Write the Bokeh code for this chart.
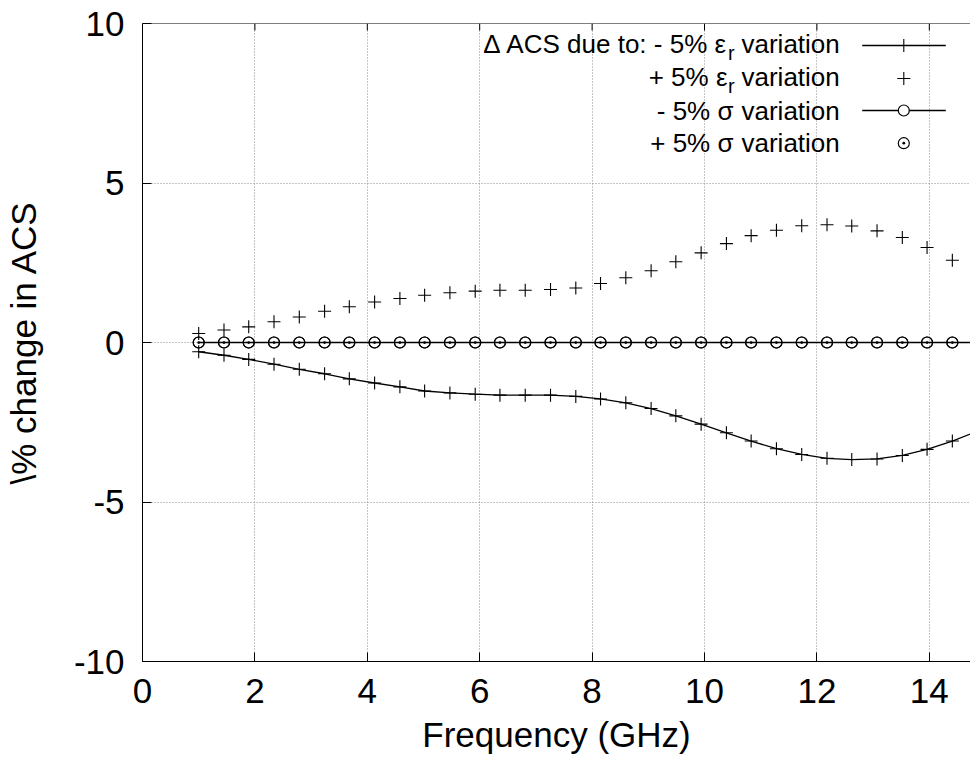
from bokeh.plotting import figure
from bokeh.models import FixedTicker, Range1d, Span
from bokeh.core.properties import value
from bokeh.embed import file_html
from bokeh.resources import INLINE

# ---------------- data ----------------
freq = [1.00, 1.45, 1.89, 2.34, 2.79, 3.24, 3.68, 4.13, 4.58, 5.02, 5.47,
        5.92, 6.36, 6.81, 7.26, 7.71, 8.15, 8.60, 9.05, 9.49, 9.94, 10.39,
        10.83, 11.28, 11.73, 12.18, 12.62, 13.07, 13.52, 13.96, 14.41, 14.86]

minus_eps = [-0.29, -0.40, -0.53, -0.68, -0.84, -0.98, -1.14, -1.27, -1.39,
             -1.52, -1.58, -1.62, -1.65, -1.65, -1.65, -1.69, -1.77, -1.89,
             -2.07, -2.30, -2.56, -2.83, -3.09, -3.33, -3.51, -3.63, -3.67,
             -3.65, -3.54, -3.35, -3.09, -2.78]

plus_eps = [0.28, 0.39, 0.49, 0.65, 0.80, 0.98, 1.12, 1.27, 1.38, 1.48, 1.56,
            1.61, 1.64, 1.64, 1.66, 1.71, 1.85, 2.03, 2.25, 2.53, 2.81, 3.10,
            3.35, 3.52, 3.66, 3.69, 3.65, 3.50, 3.29, 2.98, 2.58, 2.08]

minus_sigma = [0.0, 0.0, 0.0, 0.0, 0.0, 0.0, 0.0, 0.0, 0.0, 0.0, 0.0, 0.0,
               0.0, 0.0, 0.0, 0.0, 0.0, 0.0, 0.0, 0.0, 0.0, 0.0, 0.0, 0.0,
               0.0, 0.0, 0.0, 0.0, 0.0, 0.0, 0.0, 0.0]

plus_sigma = [0.0, 0.0, 0.0, 0.0, 0.0, 0.0, 0.0, 0.0, 0.0, 0.0, 0.0, 0.0,
              0.0, 0.0, 0.0, 0.0, 0.0, 0.0, 0.0, 0.0, 0.0, 0.0, 0.0, 0.0,
              0.0, 0.0, 0.0, 0.0, 0.0, 0.0, 0.0, 0.0]

x_ticks = [0, 2, 4, 6, 8, 10, 12, 14]
y_ticks = [-10, -5, 0, 5, 10]
y_tick_labels = ["-10", "-5", "0", "5", "10"]

legend_prefix = ["\u0394 ACS due to: - 5% \u03b5", "+ 5% \u03b5",
                 "- 5% \u03c3", "+ 5% \u03c3"]
legend_sub = ["r", "r", "", ""]
legend_tail = "variation"

# ---------------- layout ----------------
FONT = "Liberation Sans"
W, H = 970, 757
BL, BT, BB, BR = 142, 23, 96, 0
PX_PER_X = 56.2
FRAME_W = W - BL - BR
FRAME_H = H - BT - BB
X_END = FRAME_W / PX_PER_X

p = figure(width=W, height=H, output_backend="svg", toolbar_location=None,
           x_range=Range1d(0, X_END), y_range=Range1d(-10, 10),
           min_border_left=BL, min_border_right=BR,
           min_border_top=BT, min_border_bottom=BB,
           x_axis_label="Frequency (GHz)",
           y_axis_label="\\% change in ACS")
p.outline_line_color = None
p.background_fill_color = "white"
p.border_fill_color = "white"

for ax, ticks in ((p.xaxis[0], x_ticks), (p.yaxis[0], y_ticks)):
    ax.ticker = FixedTicker(ticks=ticks)
    ax.major_label_text_font = FONT
    ax.major_label_text_font_size = "35px"
    ax.major_label_text_color = "black"
    ax.axis_label_text_font = FONT
    ax.axis_label_text_font_size = "35px"
    ax.axis_label_text_font_style = "normal"
    ax.axis_label_text_color = "black"
    ax.major_tick_in = 9
    ax.major_tick_out = 0
    ax.minor_tick_in = 0
    ax.minor_tick_out = 0
    ax.axis_line_color = "black"
    ax.major_tick_line_color = "black"
    ax.axis_line_width = 1

p.yaxis[0].major_label_overrides = {t: s for t, s in zip(y_ticks, y_tick_labels)}
p.yaxis[0].major_label_standoff = 18
p.yaxis[0].axis_label_standoff = 28
p.xaxis[0].major_label_standoff = 17
p.xaxis[0].axis_label_standoff = 9

# top border with inward ticks (gnuplot style mirror ticks)
p.add_layout(Span(location=10, dimension="width", line_color="black",
                  line_width=1))
tick_len = 7 * 20.0 / FRAME_H
p.segment(x0=x_ticks[1:], y0=[10] * (len(x_ticks) - 1), x1=x_ticks[1:],
          y1=[10 - tick_len] * (len(x_ticks) - 1), line_color="black",
          line_width=1)

p.xgrid.ticker = FixedTicker(ticks=[2, 4, 6, 8, 10, 12, 14])
p.ygrid.ticker = FixedTicker(ticks=[-5, 0, 5])
for g in (p.xgrid, p.ygrid):
    g.grid_line_color = "#8a8a8a"
    g.grid_line_dash = "1 2"
    g.grid_line_width = 1

# ---------------- series ----------------
p.line(freq, minus_eps, line_color="black", line_width=1.3)
p.scatter(freq, minus_eps, marker="cross", size=13, line_color="black",
          line_width=1.1)
p.scatter(freq, plus_eps, marker="cross", size=13, line_color="black",
          line_width=1.1)
p.line(freq, minus_sigma, line_color="black", line_width=1.3)
p.scatter(freq, minus_sigma, marker="circle", size=11, line_color="black",
          fill_color=None, line_width=1.2)
p.scatter(freq, plus_sigma, marker="circle_dot", size=11, line_color="black",
          fill_color=None, line_width=1.2)

# ---------------- legend (gnuplot style: text left, sample right) ----------------
def sx(px):
    return (px - BL) / PX_PER_X


def sy(py):
    return 10 - (py - BT) * 20.0 / FRAME_H


text_rows = [43.5, 76.5, 110.5, 142.5]
sample_rows = [45.0, 78.0, 110.0, 142.7]
prefix_end = [727.0, 727.0, 733.0, 733.0]
for i, r in enumerate(text_rows):
    p.text(x=[sx(prefix_end[i])], y=[sy(r)], text=[legend_prefix[i]],
           text_font=value(FONT), text_font_size="26px", text_align="right",
           text_baseline="middle", text_color="black")
    if legend_sub[i]:
        p.text(x=[sx(prefix_end[i] + 0.5)], y=[sy(r + 9.0)],
               text=[legend_sub[i]], text_font=value(FONT),
               text_font_size="20px", text_align="left",
               text_baseline="middle", text_color="black")
    p.text(x=[sx(741.0)], y=[sy(r)], text=[legend_tail],
           text_font=value(FONT), text_font_size="26px", text_align="left",
           text_baseline="middle", text_color="black")

lx0, lx1, lxm = sx(861.7), sx(945.3), sx(903.3)
p.line([lx0, lx1], [sy(sample_rows[0])] * 2, line_color="black", line_width=1.3)
p.scatter([lxm], [sy(sample_rows[0])], marker="cross", size=13,
          line_color="black", line_width=1.1)
p.scatter([lxm], [sy(sample_rows[1])], marker="cross", size=13,
          line_color="black", line_width=1.1)
p.line([lx0, lx1], [sy(sample_rows[2])] * 2, line_color="black", line_width=1.3)
p.scatter([lxm], [sy(sample_rows[2])], marker="circle", size=11,
          line_color="black", fill_color="white", line_width=1.2)
p.scatter([lxm], [sy(sample_rows[3])], marker="circle_dot", size=11,
          line_color="black", fill_color=None, line_width=1.2)

open("out.html", "w").write(file_html(p, INLINE))
